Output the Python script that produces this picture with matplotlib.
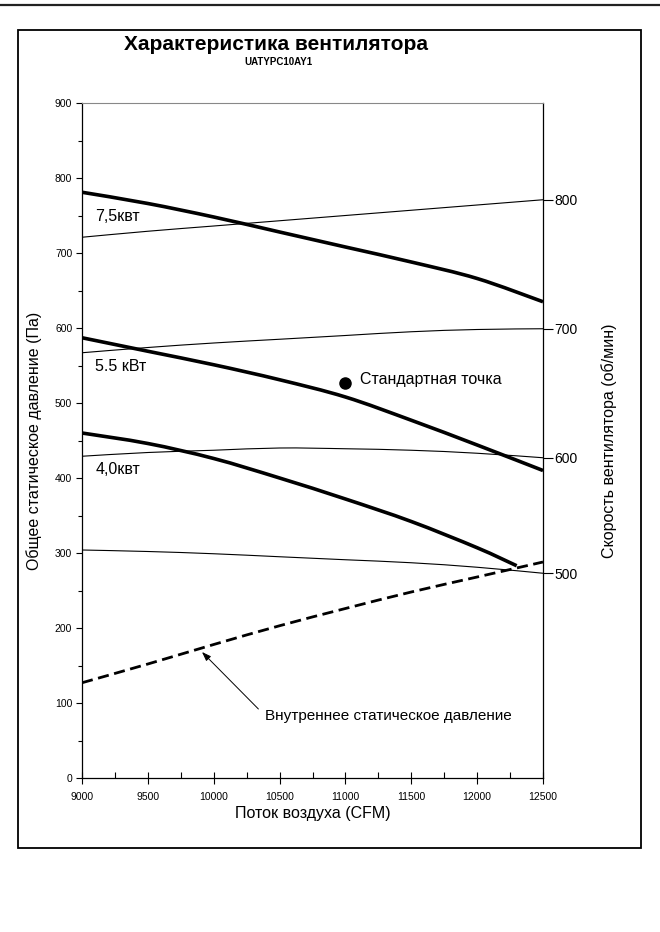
import matplotlib
matplotlib.use("Agg")
import matplotlib.pyplot as plt
from matplotlib.patches import Rectangle, PathPatch
from matplotlib.path import Path
from matplotlib.lines import Line2D
from matplotlib.ticker import MultipleLocator

plt.rcParams['font.family'] = ['Liberation Sans', 'DejaVu Sans']

# --- данные ---
cfm = [9000, 9500, 10000, 10500, 11000, 11500, 12000, 12500]

# мощностные кривые (Па)
p_75 = [781, 766, 748, 728, 708, 688, 666, 635]
p_55 = [587, 569, 551, 531, 508, 477, 444, 410]
cfm_40 = [9000, 9500, 10000, 10500, 11000, 11500, 12000, 12300]
p_40 = [460, 446, 426, 400, 372, 342, 307, 283]

# кривые оборотов (Па)
rpm_labels = ['800', '700', '600', '500']
p_800 = [721, 729, 736, 743, 750, 757, 764, 771]
p_700 = [567, 574, 580, 585, 590, 595, 598, 599]
p_600 = [429, 434, 437, 440, 439, 437, 433, 427]
p_500 = [304, 302, 299, 295, 291, 287, 281, 273]

# внутреннее статическое давление
p_int = [127, 152, 178, 203, 226, 248, 268, 288]

std_cfm, std_pa = 11000, 527

power_labels = ['7,5квт', '5.5 кВт', '4,0квт']
power_label_pa = [749, 549, 411]


def smooth_curve(ax, xs, ys, **kw):
    # сглаженная линия через точки (Catmull-Rom -> кубические Безье)
    pts = list(zip(xs, ys))
    verts = [pts[0]]
    codes = [Path.MOVETO]
    n = len(pts)
    for i in range(n - 1):
        p0 = pts[i - 1] if i > 0 else pts[i]
        p1, p2 = pts[i], pts[i + 1]
        p3 = pts[i + 2] if i + 2 < n else pts[i + 1]
        c1 = (p1[0] + (p2[0] - p0[0]) / 6, p1[1] + (p2[1] - p0[1]) / 6)
        c2 = (p2[0] - (p3[0] - p1[0]) / 6, p2[1] - (p3[1] - p1[1]) / 6)
        verts += [c1, c2, p2]
        codes += [Path.CURVE4] * 3
    ax.add_patch(PathPatch(Path(verts, codes), fill=False, **kw))


fig = plt.figure(figsize=(6.6, 9.32), dpi=100)

# рамка и верхняя линия
fig.add_artist(Line2D([0, 1], [1 - 5 / 932, 1 - 5 / 932], color='#222222', lw=1.6,
                      transform=fig.transFigure))
fig.add_artist(Rectangle((18 / 660, 1 - 848 / 932), 623 / 660, 818 / 932,
                         transform=fig.transFigure, fill=False, ec='black', lw=1.3))

ax = fig.add_axes([82 / 660, 1 - 778 / 932, 461 / 660, 675 / 932])

thick = dict(ec='black', lw=2.6, capstyle='butt')
thin = dict(ec='black', lw=0.8)

smooth_curve(ax, cfm, p_800, **thin)
smooth_curve(ax, cfm, p_700, **thin)
smooth_curve(ax, cfm, p_600, **thin)
smooth_curve(ax, cfm, p_500, **thin)

smooth_curve(ax, cfm, p_75, **thick)
smooth_curve(ax, cfm, p_55, **thick)
smooth_curve(ax, cfm_40, p_40, **thick)

smooth_curve(ax, cfm, p_int, ec='black', lw=2.0, ls=(0, (4, 2)))

ax.plot([std_cfm], [std_pa], 'o', color='black', ms=8)
ax.text(std_cfm + 110, std_pa + 4, 'Стандартная точка', fontsize=11.5, va='center', ha='left')

for lab, y in zip(power_labels, power_label_pa):
    ax.text(9100, y, lab, fontsize=11.5, va='center', ha='left')

ax.annotate('Внутреннее статическое давление', xy=(9911, 168), xytext=(10390, 83),
            fontsize=11, va='center', ha='left',
            arrowprops=dict(arrowstyle='-|>,head_length=0.5,head_width=0.18', color='black',
                            lw=0.7, relpos=(0, 0.5), shrinkA=4, shrinkB=0))

ax.set_xlim(9000, 12500)
ax.set_ylim(0, 900)
ax.xaxis.set_major_locator(MultipleLocator(500))
ax.xaxis.set_minor_locator(MultipleLocator(250))
ax.yaxis.set_major_locator(MultipleLocator(100))
ax.yaxis.set_minor_locator(MultipleLocator(50))
ax.tick_params(axis='x', which='major', direction='inout', length=8, width=0.8, labelsize=7.5, pad=6)
ax.tick_params(axis='x', which='minor', direction='in', length=4, width=0.8)
ax.tick_params(axis='y', which='major', direction='out', length=4, width=0.8, labelsize=7.5, pad=3)
ax.tick_params(axis='y', which='minor', direction='out', length=3, width=0.8)
ax.spines['top'].set_color('#888888')
ax.spines['top'].set_linewidth(0.8)
for s in ('left', 'bottom', 'right'):
    ax.spines[s].set_linewidth(0.9)

ax.set_xlabel('Поток воздуха (CFM)', fontsize=11.5, labelpad=3)
ax.set_ylabel('Общее статическое давление (Па)', fontsize=11.5, labelpad=9)

# правая шкала оборотов — метки на концах кривых
ax2 = ax.twinx()
ax2.set_ylim(ax.get_ylim())
ax2.set_yticks([p_800[-1], p_700[-1], p_600[-1], p_500[-1]])
ax2.set_yticklabels(rpm_labels)
ax2.tick_params(axis='y', direction='out', length=7, width=0.8, labelsize=10, pad=1)
ax2.set_ylabel('Скорость вентилятора (об/мин)', fontsize=11.5, labelpad=17)
for s in ax2.spines.values():
    s.set_visible(False)

fig.text(276 / 660, 1 - 45 / 932, 'Характеристика вентилятора', fontsize=15, fontweight='bold',
         ha='center', va='center', family=['Liberation Sans Narrow', 'Liberation Sans'])
fig.text(278 / 660, 1 - 62 / 932, 'UATYPC10AY1', fontsize=7, fontweight='bold',
         ha='center', va='center', family=['Liberation Sans Narrow', 'Liberation Sans'])

fig.savefig('out.png', dpi=100)
